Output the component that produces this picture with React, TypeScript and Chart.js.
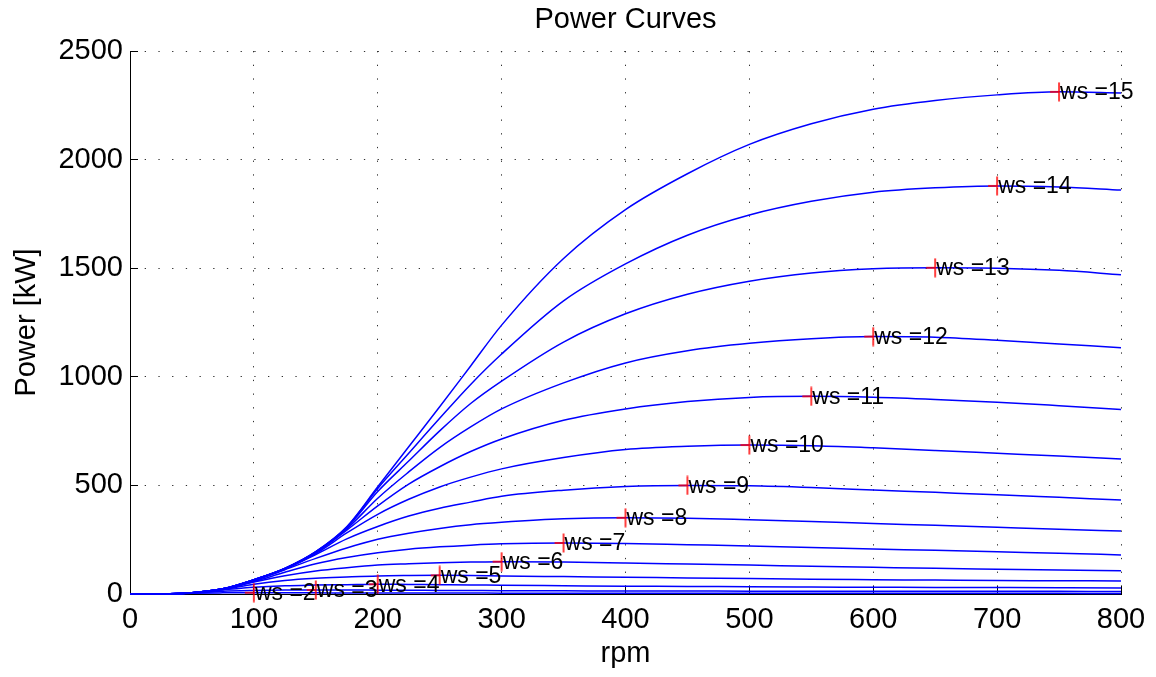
import React, { useEffect, useRef } from 'react';
import { Chart, registerables } from 'chart.js';

Chart.register(...registerables);

// ---- data ----
const rpm = [0, 25, 50, 75, 100, 125, 150, 175, 200, 225, 250, 275, 300, 350, 400, 450, 500, 550, 600, 650, 700, 750, 800];

const windSpeeds = [2, 3, 4, 5, 6, 7, 8, 9, 10, 11, 12, 13, 14, 15];

const powerWs2 = [0, 0.5, 3.8, 5.2, 5.8, 5.5, 5.2, 4.9, 4.7, 4.5, 4.3, 4.2, 4.0, 3.8, 3.6, 3.5, 3.4, 3.3, 3.2, 3.1, 3.0, 2.9, 2.8];
const powerWs3 = [0, 0.5, 4, 13, 16.5, 18, 18.5, 18.3, 17.8, 17.2, 16.6, 16, 15.4, 14.6, 14.0, 13.5, 13.2, 12.9, 12.7, 12.5, 12.3, 12.1, 12];
const powerWs4 = [0, 0.5, 5.5, 19, 31, 38, 41, 43, 45, 44, 43, 42, 40, 38, 36, 35, 33, 32, 31, 30, 29.5, 29, 28];
const powerWs5 = [0, 0.5, 5, 20, 45, 62, 72, 78, 83, 85, 86, 85, 83, 80, 77, 74, 71, 68, 66, 64, 62, 61, 60];
const powerWs6 = [0, 0.5, 5, 21, 55, 84, 106, 121, 133, 139, 144, 147, 149, 147, 143, 138, 133, 128, 123, 118, 114, 110, 107];
const powerWs7 = [0, 0.5, 6, 22, 57, 100, 139, 168, 190, 206, 217, 225, 231, 235, 233, 227, 221, 214, 207, 201, 194, 188, 180];
const powerWs8 = [0, 0.5, 6, 24, 60, 112, 164, 212, 252, 280, 302, 319, 330, 346, 351, 349, 342, 334, 325, 316, 307, 298, 290];
const powerWs9 = [0, 0.5, 6, 24, 64, 114, 182, 254, 311, 359, 395, 423, 450, 478, 495, 500, 498, 490, 479, 468, 457, 445, 433];
const powerWs10 = [0, 0.5, 6, 24, 65, 116, 186, 281, 367, 436, 493, 538, 576, 628, 665, 680, 686, 683, 673, 661, 648, 635, 621];
const powerWs11 = [0, 0.5, 6, 24, 65, 116, 190, 294, 406, 506, 586, 656, 714, 800, 852, 886, 905, 910, 906, 896, 883, 867, 850];
const powerWs12 = [0, 0.5, 6, 24, 66, 118, 192, 300, 441, 562, 674, 769, 852, 972, 1064, 1120, 1154, 1175, 1185, 1182, 1168, 1151, 1134];
const powerWs13 = [0, 0.5, 6, 24, 66, 118, 194, 305, 472, 612, 751, 877, 980, 1160, 1290, 1380, 1440, 1478, 1497, 1502, 1500, 1490, 1470];
const powerWs14 = [0, 0.5, 6, 24, 66, 118, 195, 308, 486, 648, 809, 965, 1105, 1350, 1520, 1652, 1745, 1808, 1850, 1870, 1879, 1874, 1860];
const powerWs15 = [0, 0.5, 6, 24, 66, 118, 195, 310, 494, 678, 862, 1050, 1238, 1545, 1770, 1935, 2070, 2165, 2232, 2272, 2298, 2312, 2307];

const powerCurves = [powerWs2, powerWs3, powerWs4, powerWs5, powerWs6, powerWs7, powerWs8, powerWs9, powerWs10, powerWs11, powerWs12, powerWs13, powerWs14, powerWs15];

const markerRpm = [100, 150, 200, 250, 300, 350, 400, 450, 500, 550, 600, 650, 700, 750];
const markerPower = [5.8, 18.5, 45, 86, 149, 235, 351, 500, 686, 910, 1185, 1502, 1879, 2312];
const markerLabels = ['ws =2', 'ws =3', 'ws =4', 'ws =5', 'ws =6', 'ws =7', 'ws =8', 'ws =9', 'ws =10', 'ws =11', 'ws =12', 'ws =13', 'ws =14', 'ws =15'];

const titleText = 'Power Curves';
const xTitle = 'rpm';
const yTitle = 'Power [kW]';

const FONT = '"Liberation Sans", Arial, Helvetica, sans-serif';

function makeMarker(): HTMLCanvasElement {
  const c = document.createElement('canvas');
  c.width = 20;
  c.height = 20;
  const g = c.getContext('2d')!;
  g.strokeStyle = '#ff0000';
  g.lineWidth = 1.5;
  g.beginPath();
  g.moveTo(1, 10);
  g.lineTo(10, 10);
  g.moveTo(10, 0.5);
  g.lineTo(10, 19.5);
  g.stroke();
  return c;
}

const inwardTicks = {
  id: 'inwardTicks',
  beforeDatasetsDraw(chart: any) {
    const { ctx, chartArea, scales } = chart;
    const xs = scales.x;
    const ys = scales.y;
    const align = (p: number) => Math.round(p - 0.5) + 0.5;
    ctx.save();
    ctx.strokeStyle = '#000';
    ctx.lineWidth = 1;
    ctx.beginPath();
    xs.ticks.forEach((t: any) => {
      const px = align(xs.getPixelForValue(t.value));
      ctx.moveTo(px, chartArea.bottom);
      ctx.lineTo(px, chartArea.bottom - 8);
    });
    ys.ticks.forEach((t: any) => {
      const py = align(ys.getPixelForValue(t.value));
      ctx.moveTo(chartArea.left, py);
      ctx.lineTo(chartArea.left + 8, py);
    });
    ctx.stroke();
    ctx.restore();
  },
};

const wsLabels = {
  id: 'wsLabels',
  afterDatasetsDraw(chart: any) {
    const { ctx, scales } = chart;
    ctx.save();
    ctx.font = `23px ${FONT}`;
    ctx.fillStyle = '#000';
    ctx.textAlign = 'left';
    ctx.textBaseline = 'middle';
    markerRpm.forEach((r, i) => {
      const px = scales.x.getPixelForValue(r);
      const py = scales.y.getPixelForValue(markerPower[i]);
      ctx.fillText(markerLabels[i], px + 1, py + 1);
    });
    ctx.restore();
  },
};

export default function App() {
  const ref = useRef<HTMLCanvasElement | null>(null);

  useEffect(() => {
    if (!ref.current) return;
    Chart.defaults.font.family = FONT;
    Chart.defaults.color = '#000';

    const marker = makeMarker();

    const lineDatasets = powerCurves.map((vals, i) => ({
      type: 'line' as const,
      label: `ws=${windSpeeds[i]}`,
      data: rpm.map((r, j) => ({ x: r, y: vals[j] })),
      borderColor: '#0000ff',
      backgroundColor: '#0000ff',
      borderWidth: 1.5,
      pointRadius: 0,
      cubicInterpolationMode: 'monotone' as const,
      fill: false,
      clip: false as any,
      order: 1,
    }));

    const markerDataset = {
      type: 'scatter' as const,
      label: 'optimum',
      data: markerRpm.map((r, i) => ({ x: r, y: markerPower[i] })),
      pointStyle: marker as any,
      pointRadius: 10,
      showLine: false,
      clip: false as any,
      order: 0,
    };

    const gridCommon = {
      color: '#303030',
      lineWidth: 1,
      drawTicks: false,
    };

    const chart = new Chart(ref.current, {
      type: 'line',
      data: { datasets: [...lineDatasets, markerDataset] as any },
      options: {
        responsive: false,
        devicePixelRatio: 1,
        animation: false,
        events: [],
        layout: { padding: { left: 0, right: 35, top: 0, bottom: 0 } },
        plugins: {
          legend: { display: false },
          tooltip: { enabled: false },
          title: {
            display: true,
            text: titleText,
            fullSize: false,
            color: '#000',
            font: { size: 29, weight: 'normal', family: FONT },
            padding: { top: 3, bottom: 13.2 },
          },
        },
        scales: {
          x: {
            type: 'linear',
            min: 0,
            max: 800,
            ticks: {
              stepSize: 100,
              padding: 9,
              font: { size: 29, family: FONT },
              color: '#000',
              callback: (v: any) => String(v),
              maxRotation: 0,
            },
            grid: gridCommon,
            border: { display: true, color: '#000', width: 1, dash: [1.3, 12.4] },
            title: {
              display: true,
              text: xTitle,
              color: '#000',
              font: { size: 29, family: FONT },
              padding: { top: 0, bottom: 5.6 },
            },
            afterFit: (s: any) => {
              s.height = 83;
            },
          },
          y: {
            type: 'linear',
            min: 0,
            max: 2500,
            ticks: {
              stepSize: 500,
              padding: 7,
              font: { size: 29, family: FONT },
              color: '#000',
              callback: (v: any) => String(v),
            },
            grid: gridCommon,
            border: { display: true, color: '#000', width: 1, dash: [1.3, 12.4] },
            title: {
              display: true,
              text: yTitle,
              color: '#000',
              font: { size: 29, family: FONT },
              padding: { top: 10, bottom: 0 },
            },
            afterFit: (s: any) => {
              s.width = 130;
            },
          },
        },
      },
      plugins: [inwardTicks, wsLabels],
    } as any);

    return () => {
      chart.destroy();
    };
  }, []);

  return (
    <div style={{ position: 'fixed', left: 0, top: 0, width: 1156, height: 677, background: '#fff' }}>
      <canvas ref={ref} width={1156} height={677} style={{ display: 'block', width: 1156, height: 677 }} />
    </div>
  );
}
